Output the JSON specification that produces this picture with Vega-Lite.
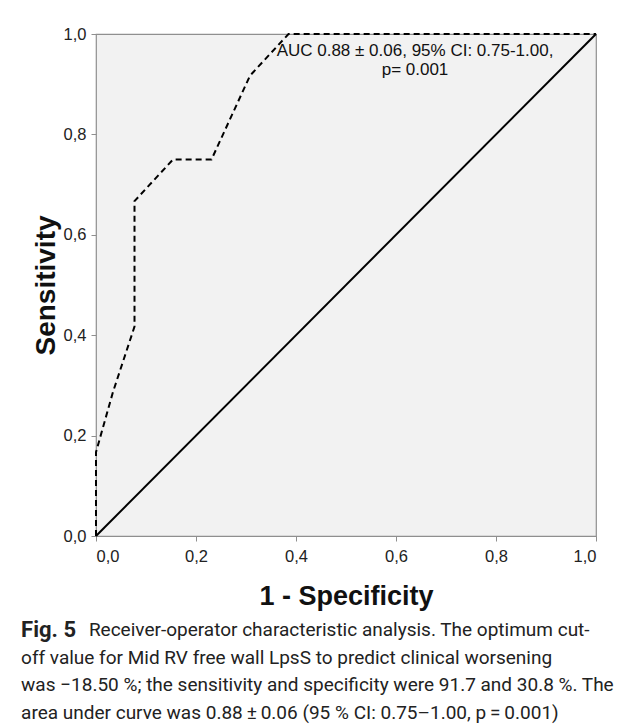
{
  "$schema": "https://vega.github.io/schema/vega-lite/v6.json",
  "autosize": "none",
  "width": 500,
  "height": 502,
  "padding": {"left": 96, "top": 34, "right": 37, "bottom": 191},
  "background": "white",
  "datasets": {
    "roc": [
      {"fpr": 0, "tpr": 0, "order": 1},
      {"fpr": 0, "tpr": 0.167, "order": 2},
      {"fpr": 0.034, "tpr": 0.287, "order": 3},
      {"fpr": 0.077, "tpr": 0.417, "order": 4},
      {"fpr": 0.077, "tpr": 0.667, "order": 5},
      {"fpr": 0.154, "tpr": 0.75, "order": 6},
      {"fpr": 0.231, "tpr": 0.75, "order": 7},
      {"fpr": 0.308, "tpr": 0.917, "order": 8},
      {"fpr": 0.385, "tpr": 1, "order": 9},
      {"fpr": 1, "tpr": 1, "order": 10}
    ],
    "ref": [
      {"fpr": 0, "tpr": 0},
      {"fpr": 1, "tpr": 1}
    ],
    "note": [
      {"label": "AUC 0.88 \u00b1 0.06, 95% CI: 0.75-1.00,\np= 0.001"}
    ]
  },
  "title": {
    "text": "Fig. 5",
    "subtitle": [
      "\u200b\u2003\u2003\u2003\u2002Receiver-operator characteristic analysis. The optimum cut-",
      "off value for Mid RV free wall LpsS to predict clinical worsening",
      "was \u221218.50 %; the sensitivity and specificity were 91.7 and 30.8 %. The",
      "area under curve was 0.88\u2009\u00b1\u20090.06 (95 % CI: 0.75\u20131.00, p\u2009=\u20090.001)"
    ],
    "orient": "bottom",
    "anchor": "start",
    "frame": "bounds",
    "font": "Roboto",
    "fontSize": 22,
    "fontWeight": "bold",
    "color": "#222222",
    "subtitleFont": "Roboto",
    "subtitleFontSize": 19,
    "subtitleFontWeight": "normal",
    "subtitleColor": "#222222",
    "subtitleLineHeight": 27.5,
    "lineHeight": 27.5,
    "subtitlePadding": -20.5,
    "offset": 10,
    "dx": -11
  },
  "layer": [
    {
      "data": {"name": "ref"},
      "mark": {"type": "line", "color": "#000000", "strokeWidth": 2},
      "encoding": {
        "x": {"field": "fpr", "type": "quantitative"},
        "y": {"field": "tpr", "type": "quantitative"}
      }
    },
    {
      "data": {"name": "roc"},
      "mark": {"type": "line", "color": "#000000", "strokeWidth": 2, "strokeDash": [6, 4]},
      "encoding": {
        "x": {
          "field": "fpr",
          "type": "quantitative",
          "scale": {"domain": [0, 1], "nice": false, "zero": true},
          "axis": {
            "values": [0, 0.2, 0.4, 0.6, 0.8, 1],
            "labelExpr": "replace(format(datum.value, '.1f'), '.', ',')",
            "title": "1 - Specificity",
            "titleFontSize": 27,
            "titlePadding": 19,
            "labelPadding": 7
          }
        },
        "y": {
          "field": "tpr",
          "type": "quantitative",
          "scale": {"domain": [0, 1], "nice": false, "zero": true},
          "axis": {
            "values": [0, 0.2, 0.4, 0.6, 0.8, 1],
            "labelExpr": "replace(format(datum.value, '.1f'), '.', ',')",
            "title": "Sensitivity",
            "titleFontSize": 28,
            "titlePadding": 3,
            "labelPadding": 5
          }
        },
        "order": {"field": "order", "type": "quantitative"}
      }
    },
    {
      "data": {"name": "note"},
      "mark": {
        "type": "text",
        "align": "center",
        "baseline": "middle",
        "font": "Liberation Sans",
        "fontSize": 17,
        "color": "#111111",
        "lineBreak": "\n",
        "lineHeight": 19
      },
      "encoding": {
        "x": {"datum": 0.638, "type": "quantitative"},
        "y": {"datum": 0.966, "type": "quantitative"},
        "text": {"field": "label", "type": "nominal"}
      }
    }
  ],
  "config": {
    "view": {"fill": "#f2f2f2", "stroke": "#8f8f8f", "strokeWidth": 1.2},
    "axis": {
      "grid": false,
      "domain": false,
      "tickSize": 5,
      "tickColor": "#8f8f8f",
      "tickWidth": 1,
      "labelFont": "Liberation Sans",
      "labelFontSize": 16.5,
      "labelColor": "#222222",
      "titleFont": "Liberation Sans",
      "titleFontWeight": "bold",
      "titleColor": "#111111"
    }
  }
}
